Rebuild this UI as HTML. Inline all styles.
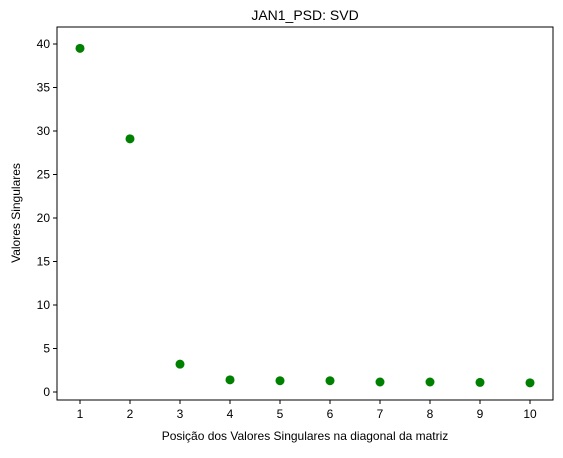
<!DOCTYPE html>
<html><head><meta charset="utf-8"><style>
body{margin:0;background:#fff;font-family:"Liberation Sans","DejaVu Sans",sans-serif}
</style></head><body>
<svg width="563" height="453" xmlns="http://www.w3.org/2000/svg">
<rect x="0" y="0" width="563" height="453" fill="#fff"/>
<text x="305" y="20" text-anchor="middle" font-size="14">JAN1_PSD: SVD</text>
<rect x="57" y="27" width="496" height="373" fill="none" stroke="#000" stroke-width="1"/>
<g id="xt"></g><g id="yt"></g><g id="pts"></g>
<text x="305" y="440" text-anchor="middle" font-size="12">Posição dos Valores Singulares na diagonal da matriz</text>
<text x="20" y="213" text-anchor="middle" font-size="12" transform="rotate(-90 20 213)">Valores Singulares</text>
</svg>
<script>
const positions=[1,2,3,4,5,6,7,8,9,10];
const values=[39.5,29.1,3.2,1.4,1.3,1.3,1.15,1.15,1.1,1.05];
const yTicks=[0,5,10,15,20,25,30,35,40];
const ns="http://www.w3.org/2000/svg";
const xs=v=>80+(v-1)*50;
const ys=v=>392-v*8.7;
function mk(t,a,p){const e=document.createElementNS(ns,t);for(const k in a)e.setAttribute(k,a[k]);p.appendChild(e);return e;}
const xt=document.getElementById('xt'),yt=document.getElementById('yt'),pts=document.getElementById('pts');
positions.forEach(p=>{
 const l=mk('line',{x1:xs(p),x2:xs(p),y1:400,y2:404,stroke:'#000'},xt);
 
 
 const t=mk('text',{x:xs(p),y:418,'text-anchor':'middle','font-size':12},xt);t.textContent=p;
 
 
});
yTicks.forEach(v=>{
 const l=mk('line',{x1:53,x2:57,y1:ys(v),y2:ys(v),stroke:'#000'},yt);
 
 
 const t=mk('text',{x:50,y:ys(v)+4,'text-anchor':'end','font-size':12},yt);t.textContent=v;
 
 
});
values.forEach((v,i)=>{
 const c=mk('circle',{cx:xs(positions[i]),cy:ys(v),r:4.5,fill:'#008000'},pts);
 
 
});
</script>
</body></html>
